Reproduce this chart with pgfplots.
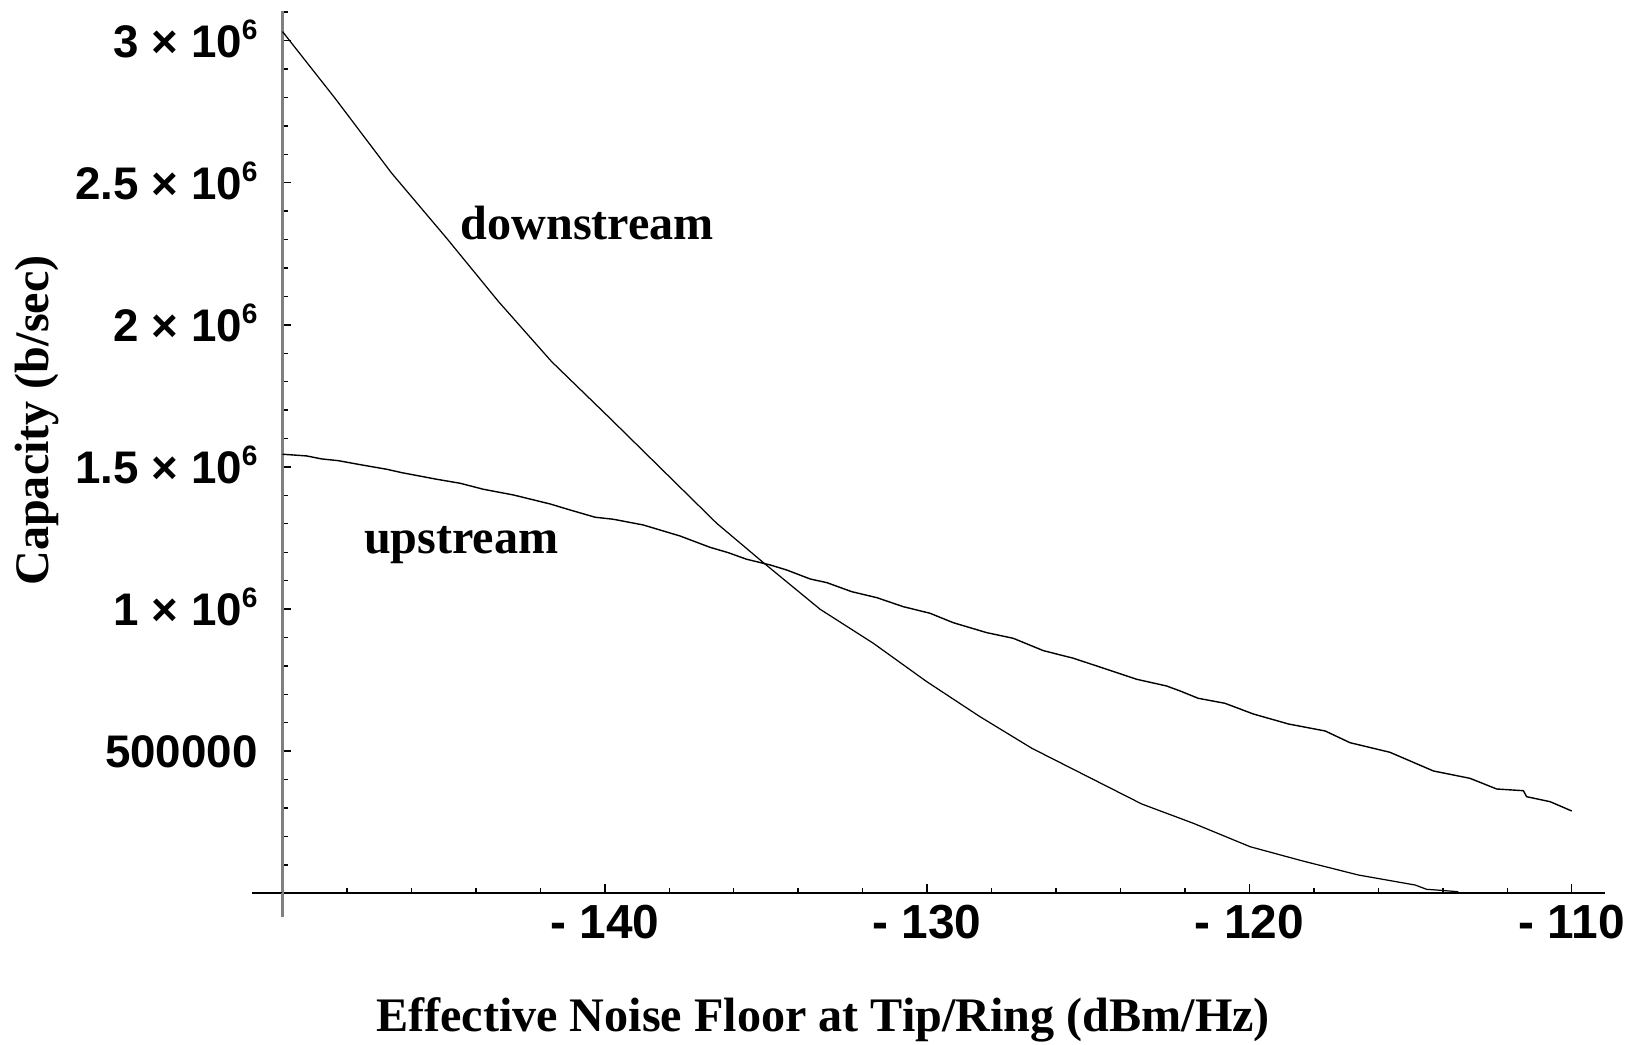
\documentclass[border=0pt]{standalone}
\usepackage{fontspec}
\setmainfont{Liberation Serif}
\setsansfont{Liberation Sans}
\usepackage{pgfplots}
\pgfplotsset{compat=1.18}

% tick label "m x 10^6" in the bold sans tick font
\newcommand{\sci}[1]{#1 \texttimes{} 10\raisebox{5.1pt}{\fontsize{8}{8}\selectfont 6}}
\newcommand{\ticklabelfont}{\sffamily\bfseries\fontsize{13}{15}\selectfont}
\newcommand{\xticklabelfont}{\sffamily\bfseries\fontsize{13.6}{15}\selectfont}
\newcommand{\labelfont}{\rmfamily\bfseries\fontsize{13.7}{16}\selectfont}

\begin{document}
\begin{tikzpicture}
\path[use as bounding box] (-28.25mm,-15.07mm) rectangle (135.15mm,89.33mm);
\begin{axis}[
  scale only axis,
  width=132.21mm, height=88.23mm,
  xmin=-150, xmax=-108.98,
  ymin=0, ymax=3104000,
  axis lines*=left,
  clip=false,
  tick align=inside,
  major tick length=0.9mm,
  minor tick length=0.55mm,
  every tick/.style={black, line width=0.4pt},
  x axis line style={black, line width=0.5pt},
  y axis line style={gray, line width=0.6pt},
  xtick={-140,-130,-120,-110},
  xticklabels={- 140, - 130, - 120, - 110},
  minor xtick={-148,-146,...,-112},
  ytick={500000,1000000,1500000,2000000,2500000,3000000},
  yticklabels={500000, \sci{1}, \sci{1.5}, \sci{2}, \sci{2.5}, \sci{3}},
  minor ytick={100000,200000,...,3100000},
  scaled y ticks=false,
  xticklabel style={font=\xticklabelfont, anchor=base, inner sep=0pt, yshift=-4.5mm},
  yticklabel style={font=\ticklabelfont, anchor=base east, inner sep=0pt, xshift=-2.42mm, yshift=-1.65mm},
]
% downstream capacity
\addplot[black, line width=0.35pt] coordinates {
  (-150.00,3031600) (-148.37,2797000) (-146.61,2533000) (-144.91,2305000)
  (-143.30,2082000) (-141.65,1870500) (-139.84,1671300) (-136.53,1301900)
  (-135.08,1163300) (-133.32,999300) (-131.67,879700) (-130.01,744500)
  (-128.36,621400) (-126.75,510200) (-123.34,314200) (-121.74,246300)
  (-119.98,164000) (-118.38,114700) (-116.62,64400) (-114.86,29200)
  (-114.50,14000) (-114.19,11600) (-113.52,5600)
};
% upstream capacity
\addplot[black, line width=0.4pt] coordinates {
  (-150.00,1544700) (-149.25,1538700) (-148.78,1528100) (-148.27,1522100)
  (-147.54,1507000) (-146.77,1491900) (-146.30,1479900) (-145.22,1456700)
  (-144.49,1442600) (-143.77,1421500) (-142.84,1401500) (-141.70,1369800)
  (-141.08,1348700) (-140.30,1323000) (-139.74,1316000) (-138.81,1295900)
  (-137.67,1257200) (-136.74,1217400) (-136.17,1198400) (-135.60,1175200)
  (-134.87,1155200) (-134.36,1137600) (-133.63,1105900) (-133.11,1092900)
  (-132.34,1061200) (-131.56,1040100) (-130.74,1008400) (-129.91,985200)
  (-129.19,952100) (-128.15,917000) (-127.33,897200) (-126.39,853600)
  (-125.46,826900) (-124.43,788200) (-123.50,753000) (-122.57,729400)
  (-122.15,711800) (-121.59,686100) (-120.76,668500) (-119.88,630900)
  (-118.79,595700) (-117.65,571100) (-116.88,529900) (-115.64,496100)
  (-114.29,430300) (-113.16,404600) (-112.33,367000) (-111.50,361000)
  (-111.40,339900) (-110.67,322300) (-110.00,289600)
};
\node[anchor=base west, inner sep=0pt, font=\labelfont] at (axis cs:-144.49,2298700) {downstream};
\node[anchor=base west, inner sep=0pt, font=\labelfont] at (axis cs:-147.49,1196300) {upstream};
% axis stubs beyond the crossing point
\draw[black, line width=0.5pt] ([xshift=-3.05mm]axis cs:-150,0) -- (axis cs:-150,0);
\draw[gray, line width=0.6pt] ([yshift=-2.4mm]axis cs:-150,0) -- (axis cs:-150,0);
\end{axis}
\node[rotate=90, font=\labelfont] at (-24.6mm,47.28mm) {Capacity (b/sec)};
\node[font=\labelfont] at (54.05mm,-12.7mm) {Effective Noise Floor at Tip/Ring (dBm/Hz)};
\end{tikzpicture}
\end{document}
